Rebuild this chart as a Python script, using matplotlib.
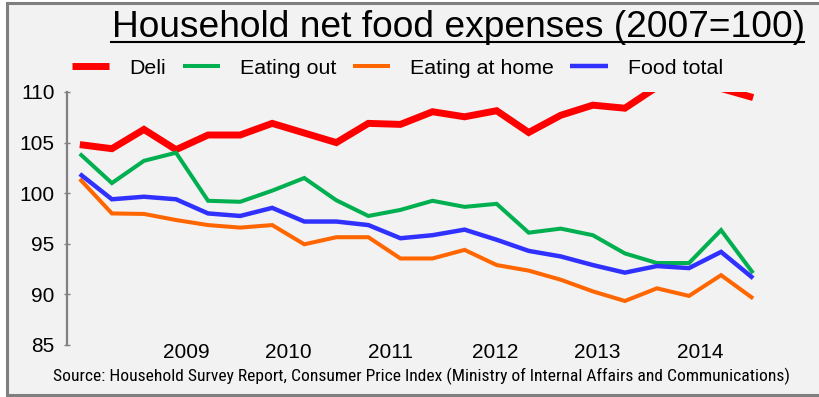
import numpy as np
import matplotlib
matplotlib.use("Agg")
import matplotlib.pyplot as plt
from matplotlib.lines import Line2D
from matplotlib.patches import Rectangle

# ---- data -------------------------------------------------------------
title = "Household net food expenses (2007=100)"
source = ("Source: Household Survey Report, Consumer Price Index "
          "(Ministry of Internal Affairs and Communications)")

series_names = ["Deli", "Eating out", "Eating at home", "Food total"]

deli = [104.8, 104.4, 106.3, 104.3, 105.75, 105.75, 106.9, 105.95, 105.0, 106.9,
        106.8, 108.05, 107.55, 108.15, 106.0, 107.7, 108.7, 108.4, 110.5, 111.0,
        110.35, 109.45]
eating_out = [103.9, 101.0, 103.2, 104.0, 99.25, 99.15, 100.25, 101.5, 99.3, 97.75,
              98.35, 99.25, 98.65, 98.95, 96.1, 96.5, 95.85, 94.05, 93.1, 93.1,
              96.35, 92.1]
eating_home = [101.4, 98.0, 97.95, 97.35, 96.85, 96.6, 96.85, 94.95, 95.65, 95.65,
               93.55, 93.55, 94.4, 92.9, 92.35, 91.45, 90.3, 89.35, 90.6, 89.85,
               91.9, 89.6]
food_total = [101.9, 99.4, 99.65, 99.4, 98.0, 97.75, 98.55, 97.2, 97.2, 96.85,
              95.55, 95.85, 96.4, 95.4, 94.3, 93.75, 92.9, 92.15, 92.8, 92.6,
              94.2, 91.6]

year_labels = ["2009", "2010", "2011", "2012", "2013", "2014"]
year_label_pos = [3.31, 6.49, 9.70, 12.95, 16.14, 19.35]
y_ticks = [85, 90, 95, 100, 105, 110]

# ---- figure -----------------------------------------------------------
W, H = 820, 397
fig = plt.figure(figsize=(W / 100, H / 100), dpi=100)
fig.patch.set_facecolor("white")

panel = Rectangle((7 / W, 2 / H), 830 / W, 392 / H, transform=fig.transFigure,
                  facecolor="#f2f2f2", edgecolor="#7f7f7f", linewidth=2.2, zorder=-5)
fig.patches.append(panel)

ax = fig.add_axes([67 / W, 52 / H, 723 / W, 253 / H])
ax.set_facecolor("none")
ax.set_zorder(2)

x = np.arange(len(deli))
styles = [
    (deli, "#ff0000", 5.0),
    (eating_out, "#00b050", 2.9),
    (eating_home, "#ff6600", 2.9),
    (food_total, "#3030ff", 3.2),
]
handles = []
for (vals, color, lw), name in zip(styles, series_names):
    line, = ax.plot(x, vals, color=color, lw=lw, solid_joinstyle="miter",
                    solid_capstyle="butt", label=name)
    handles.append(line)

ax.set_xlim(-0.4, 22.15)
ax.set_ylim(85, 110)
ax.set_yticks(y_ticks)
ax.set_yticklabels([str(v) for v in y_ticks], fontsize=15, family="Liberation Sans")
ax.set_xticks(year_label_pos)
ax.set_xticklabels(year_labels, fontsize=15, family="Liberation Sans")
ax.tick_params(axis="y", direction="inout", length=4, width=1, color="#808080", pad=7)
ax.tick_params(axis="x", length=0, pad=-1.5)
for side in ("top", "right", "bottom"):
    ax.spines[side].set_visible(False)
ax.spines["left"].set_color("#808080")
ax.spines["left"].set_linewidth(1.6)

leg = fig.legend(handles=handles, labels=series_names, ncol=4, frameon=False,
                 loc="center left", bbox_to_anchor=(72 / W, 1 - 68 / H),
                 bbox_transform=fig.transFigure, borderaxespad=0, borderpad=0,
                 prop={"family": "Liberation Sans", "size": 15.4},
                 handlelength=1.75, handletextpad=0.95, columnspacing=0.75)

# ---- title (underlined) and source note --------------------------------
t = fig.text(458 / W, 1 - 37 / H, title, ha="center", va="baseline",
             fontsize=24, family="Liberation Sans", color="black")
s = fig.text(422 / W, 1 - 376 / H, source, ha="center", va="center",
             fontsize=13, fontstretch="condensed",
             family=["Liberation Sans Narrow", "Roboto Condensed",
                     "Open Sans Condensed", "DejaVu Sans Condensed", "Liberation Sans"],
             color="black")

fig.canvas.draw()
r = fig.canvas.get_renderer()
for txt, target in ((t, 693), (s, 730)):
    w = txt.get_window_extent(r).width
    txt.set_fontsize(txt.get_fontsize() * target / w)
fig.canvas.draw()
bb = t.get_window_extent(r)
fig.add_artist(Line2D([bb.x0 / W, bb.x1 / W], [1 - 41.7 / H, 1 - 41.7 / H],
                      transform=fig.transFigure, color="black", lw=1.5))

fig.savefig("out.png", dpi=100, facecolor=fig.get_facecolor())
